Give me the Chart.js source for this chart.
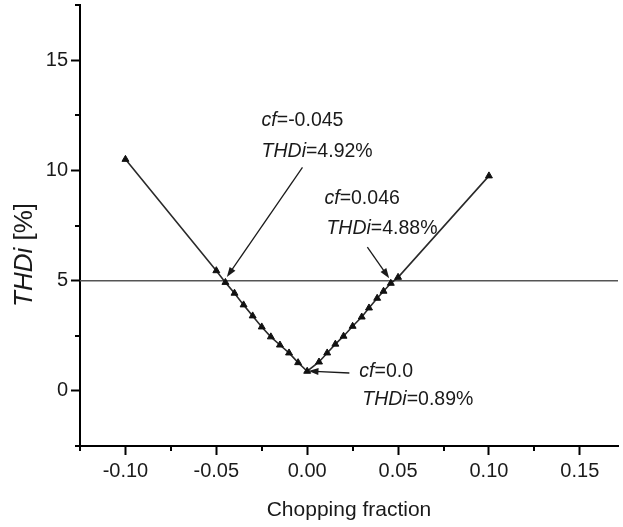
<!DOCTYPE html>
<html>
<head>
<meta charset="utf-8">
<script src="https://cdn.jsdelivr.net/npm/chart.js@4"></script>
<style>
  html, body { margin: 0; padding: 0; background: #fff; }
  canvas { display: block; }
</style>
</head>
<body>
<canvas id="thd" width="623" height="527"></canvas>
<script>
// THDi vs chopping fraction
const cfValues  = [-0.1, -0.05, -0.045, -0.04, -0.035, -0.03, -0.025, -0.02, -0.015, -0.01, -0.005, 0,
                   0.0065, 0.011, 0.0155, 0.02, 0.025, 0.03, 0.034, 0.0385, 0.042, 0.046, 0.05, 0.1];
const thdValues = [10.5, 5.45, 4.92, 4.43, 3.9, 3.4, 2.9, 2.45, 2.08, 1.72, 1.28, 0.89,
                   1.31, 1.72, 2.12, 2.48, 2.93, 3.35, 3.76, 4.2, 4.52, 4.88, 5.15, 9.75];
const limitX = [-0.125, 0.171];
const limitY = [5, 5];
const xTickLabels = ['-0.10', '-0.05', '0.00', '0.05', '0.10', '0.15'];
const yTickLabels = ['0', '5', '10', '15'];
const xTitle = 'Chopping fraction';
const yTitle = ['THDi', ' [%]'];
const calloutText = [
  [['cf', '=-0.045'], ['THDi', '=4.92%']],
  [['cf', '=0.046'], ['THDi', '=4.88%']],
  [['cf', '=0.0'], ['THDi', '=0.89%']]
];

// where each callout sits, in data units
const calloutLayout = [
  { lines: [[-0.0251, 12.26], [-0.0251, 10.84]], from: [-0.0026, 10.14], to: [-0.0442, 5.16] },
  { lines: [[0.0095, 8.73], [0.0106, 7.38]], from: [0.0331, 6.52], to: [0.0451, 5.11] },
  { lines: [[0.0287, 0.86], [0.0303, -0.41]], from: [0.0232, 0.81], to: [0.0007, 0.9] }
];

const FONT = '"Liberation Sans", Arial, sans-serif';
const isMajor = (v, step) => Math.abs(v / step - Math.round(v / step)) < 1e-6;

const calloutPlugin = {
  id: 'callouts',
  afterDatasetsDraw(chart) {
    const { ctx, scales: { x, y } } = chart;
    ctx.save();
    ctx.fillStyle = '#1a1a1a';
    ctx.strokeStyle = '#1a1a1a';
    ctx.textBaseline = 'middle';
    calloutLayout.forEach((c, i) => {
      // arrow
      const x0 = x.getPixelForValue(c.from[0]), y0 = y.getPixelForValue(c.from[1]);
      const x1 = x.getPixelForValue(c.to[0]), y1 = y.getPixelForValue(c.to[1]);
      const a = Math.atan2(y1 - y0, x1 - x0);
      ctx.lineWidth = 1.3;
      ctx.beginPath();
      ctx.moveTo(x0, y0);
      ctx.lineTo(x1 - 6 * Math.cos(a), y1 - 6 * Math.sin(a));
      ctx.stroke();
      ctx.beginPath();
      ctx.moveTo(x1, y1);
      ctx.lineTo(x1 - 10 * Math.cos(a) + 3.5 * Math.sin(a), y1 - 10 * Math.sin(a) - 3.5 * Math.cos(a));
      ctx.lineTo(x1 - 10 * Math.cos(a) - 3.5 * Math.sin(a), y1 - 10 * Math.sin(a) + 3.5 * Math.cos(a));
      ctx.closePath();
      ctx.fill();
      // text, italic symbol + plain value
      calloutText[i].forEach((parts, j) => {
        let tx = x.getPixelForValue(c.lines[j][0]);
        const ty = y.getPixelForValue(c.lines[j][1]);
        ctx.font = 'italic 19.5px ' + FONT;
        ctx.fillText(parts[0], tx, ty);
        tx += ctx.measureText(parts[0]).width;
        ctx.font = '19.5px ' + FONT;
        ctx.fillText(parts[1], tx, ty);
      });
    });
    ctx.restore();
  }
};

const axisPlugin = {
  id: 'axisExtras',
  afterDraw(chart) {
    const { ctx, chartArea, scales: { x, y } } = chart;
    ctx.save();
    // minor ticks
    ctx.strokeStyle = '#000';
    ctx.lineWidth = 2;
    x.ticks.forEach(t => {
      if (isMajor(t.value, 0.05)) return;
      const px = Math.round(x.getPixelForValue(t.value));
      ctx.beginPath();
      ctx.moveTo(px, chartArea.bottom);
      ctx.lineTo(px, chartArea.bottom + 5);
      ctx.stroke();
    });
    y.ticks.forEach(t => {
      if (isMajor(t.value, 5)) return;
      const py = Math.round(y.getPixelForValue(t.value));
      ctx.beginPath();
      ctx.moveTo(chartArea.left, py);
      ctx.lineTo(chartArea.left - 5, py);
      ctx.stroke();
    });
    // y title with italic symbol
    ctx.fillStyle = '#1a1a1a';
    ctx.textBaseline = 'middle';
    ctx.translate(25, 255);
    ctx.rotate(-Math.PI / 2);
    ctx.font = 'italic 26px ' + FONT;
    const w0 = ctx.measureText(yTitle[0]).width;
    ctx.font = '26px ' + FONT;
    const w1 = ctx.measureText(yTitle[1]).width;
    let tx = -(w0 + w1) / 2;
    ctx.font = 'italic 26px ' + FONT;
    ctx.fillText(yTitle[0], tx, 0);
    ctx.font = '26px ' + FONT;
    ctx.fillText(yTitle[1], tx + w0, 0);
    ctx.restore();
  }
};

new Chart(document.getElementById('thd'), {
  type: 'line',
  data: {
    datasets: [
      {
        data: cfValues.map((v, i) => ({ x: v, y: thdValues[i] })),
        borderColor: '#2a2a2a',
        borderWidth: 1.6,
        pointStyle: 'triangle',
        pointRadius: 4,
        pointBackgroundColor: '#111',
        pointBorderColor: '#111',
        pointBorderWidth: 1,
        tension: 0
      },
      {
        data: limitX.map((v, i) => ({ x: v, y: limitY[i] })),
        borderColor: '#555',
        borderWidth: 1.5,
        pointRadius: 0
      }
    ]
  },
  options: {
    responsive: false,
    animation: false,
    devicePixelRatio: 1,
    layout: { padding: { top: 4, right: 0, left: 0, bottom: 0 } },
    plugins: { legend: { display: false }, tooltip: { enabled: false } },
    scales: {
      x: {
        type: 'linear',
        min: -0.125,
        max: 0.171,
        afterFit: s => { s.height = 81; s.paddingLeft = 0; s.paddingRight = 0; },
        border: { color: '#000', width: 2 },
        grid: {
          drawOnChartArea: false,
          tickLength: 9,
          tickWidth: 2,
          tickColor: c => (c.tick && isMajor(c.tick.value, 0.05)) ? '#000' : 'rgba(0,0,0,0)'
        },
        ticks: {
          stepSize: 0.025,
          includeBounds: false,
          maxRotation: 0,
          autoSkip: false,
          padding: 4,
          color: '#1a1a1a',
          font: { family: FONT, size: 20 },
          callback: v => {
            const s = (Math.abs(v) < 1e-9 ? 0 : v).toFixed(2);
            return isMajor(v, 0.05) && xTickLabels.includes(s) ? s : '';
          }
        },
        title: {
          display: true,
          text: xTitle,
          color: '#1a1a1a',
          font: { family: FONT, size: 21 },
          padding: { top: 0, bottom: 4 }
        }
      },
      y: {
        type: 'linear',
        min: -2.5,
        max: 17.5,
        afterFit: s => { s.width = 80; s.paddingTop = 0; s.paddingBottom = 0; },
        border: { color: '#000', width: 2 },
        grid: {
          drawOnChartArea: false,
          tickLength: 9,
          tickWidth: 2,
          tickColor: c => (c.tick && isMajor(c.tick.value, 5)) ? '#000' : 'rgba(0,0,0,0)'
        },
        ticks: {
          stepSize: 2.5,
          autoSkip: false,
          padding: 3,
          color: '#1a1a1a',
          font: { family: FONT, size: 20 },
          callback: v => {
            const s = String(Math.round(v));
            return isMajor(v, 5) && yTickLabels.includes(s) ? s : '';
          }
        }
      }
    }
  },
  plugins: [calloutPlugin, axisPlugin]
});
</script>
</body>
</html>
